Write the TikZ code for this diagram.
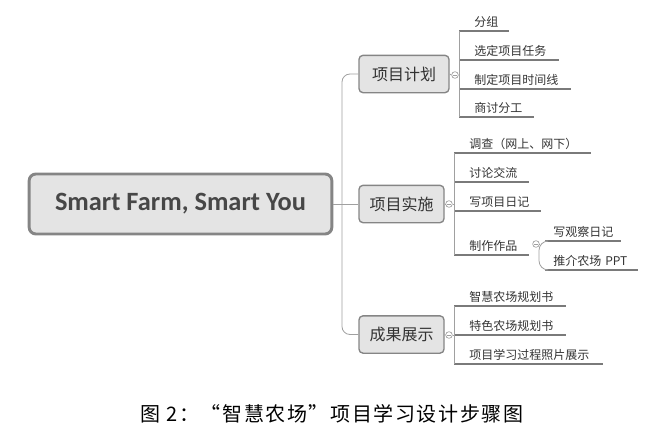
\documentclass[tikz,border=0pt]{standalone}
\usepackage{fontspec}
\newfontfamily\cjk{Noto Sans CJK SC}
\newfontfamily\titlefont{Carlito}
\newfontfamily\capfont[LetterSpace=8]{Noto Sans CJK SC}
\definecolor{boxfill}{HTML}{E4E4E4}
\definecolor{boxline}{HTML}{858585}
\definecolor{txt}{HTML}{333333}
\definecolor{conn}{HTML}{A0A0A0}
\definecolor{uline}{HTML}{7A7A7A}
\begin{document}
\begin{tikzpicture}[x=0.75pt,y=-0.75pt,
  mainbox/.style={draw=boxline, line width=2.2pt, fill=boxfill, rounded corners=5pt,
    minimum width=227pt, minimum height=45pt, font=\titlefont\bfseries\fontsize{19.8}{22}\selectfont, text=txt!90!white},
  secbox/.style={draw=boxline, line width=1pt, fill=boxfill, rounded corners=3pt,
    minimum height=28pt, inner sep=0pt, font=\cjk\fontsize{12}{14}\selectfont, text=txt},
  fold/.style={circle, draw=conn, fill=white, line width=0.5pt, minimum size=5pt, inner sep=0pt,
    path picture={\draw[conn, line width=0.4pt] ([xshift=-1.4pt]path picture bounding box.center) -- ([xshift=1.4pt]path picture bounding box.center);}},
  leafbase/.style={anchor=south west, inner xsep=0pt, inner ysep=2.5pt, align=left,
    font=\cjk\fontsize{9}{11}\selectfont, text=txt},
  leaf/.style={leafbase, execute at begin node={\hspace*{11.25pt}}},
  subleaf/.style={leafbase, execute at begin node={\hspace*{6pt}}},
  cline/.style={draw=conn, line width=0.6pt},
  uline/.style={draw=uline, line width=1.6pt},
]
\useasboundingbox (0,0) rectangle (662,443);

% main
\node[mainbox] (main) at (180.5,204) {Smart Farm, Smart You};

% sections
\node[secbox, minimum width=67.5pt] (p1) at (404,74) {项目计划};
\node[secbox, minimum width=63.75pt] (p2) at (401.5,204) {项目实施};
\node[secbox, minimum width=63.75pt] (p3) at (401.5,334.5) {成果展示};

\coordinate (tk) at (342,0);
\draw[cline] (main.east) -- (p2.west);
\draw[cline, rounded corners=6pt] (p1.west) -- (p1.west -| tk) -- (p3.west -| tk) -- (p3.west);

% fold circles
\node[fold] (c1) at (455,75) {};
\node[fold] (c2) at (449,204) {};
\node[fold] (c3) at (449,335) {};
\node[fold] (c4) at (536,244) {};
\draw[cline] (p1.east) -- (c1.west);
\draw[cline] (p2.east) -- (c2.west);
\draw[cline] (p3.east) -- (c3.west);

% group 1
\node[leaf, text width=36.75pt] (a1) at (459,31) {分组};
\node[leaf, text width=74.25pt] (a2) at (459,60) {选定项目任务};
\node[leaf, text width=83.25pt] (a3) at (459,89) {制定项目时间线};
\node[leaf, text width=55.5pt] (a4) at (459,117) {商讨分工};
\foreach \n in {a1,a2,a3,a4} \draw[uline] (\n.south west) -- (\n.south east);
\draw[cline] (a1.south west) -- (a4.south west);
\draw[cline] (c1.east) -- (c1.east -| a1.south west);

% group 2
\node[leaf, text width=102pt] (b1) at (454,153) {调查（网上、网下）};
\node[leaf, text width=55.5pt] (b2) at (454,182) {讨论交流};
\node[leaf, text width=64.5pt] (b3) at (454,211) {写项目日记};
\node[leaf, text width=55.5pt] (b4) at (454,255) {制作作品};
\foreach \n in {b1,b2,b3,b4} \draw[uline] (\n.south west) -- (\n.south east);
\draw[cline] (b1.south west) -- (b4.south west);
\draw[cline] (c2.east) -- (c2.east -| b1.south west);

% sub group
\node[subleaf, text width=56.25pt] (s1) at (545,241) {写观察日记};
\node[subleaf, text width=69pt] (s2) at (545,270) {推介农场 PPT};
\foreach \n in {s1,s2} \draw[uline] (\n.south west) -- (\n.south east);
\coordinate (sb) at (539,0);
\draw[cline, rounded corners=7pt] (s1.south west) -- (s1.south west -| sb) -- (s2.south west -| sb) -- (s2.south west);
\draw[cline] (c4.east) -- (c4.east -| sb);

% group 3
\node[leaf, text width=83.25pt] (d1) at (454,306) {智慧农场规划书};
\node[leaf, text width=83.25pt] (d2) at (454,335) {特色农场规划书};
\node[leaf, text width=111pt] (d3) at (454,364) {项目学习过程照片展示};
\foreach \n in {d1,d2,d3} \draw[uline] (\n.south west) -- (\n.south east);
\draw[cline] (d1.south west) -- (d3.south west);
\draw[cline] (c3.east) -- (c3.east -| d1.south west);

% caption
\node[font=\capfont\fontsize{15}{17}\selectfont, text=black] (cap) at (332,414) {图 2：“智慧农场”项目学习设计步骤图};
\end{tikzpicture}
\end{document}
